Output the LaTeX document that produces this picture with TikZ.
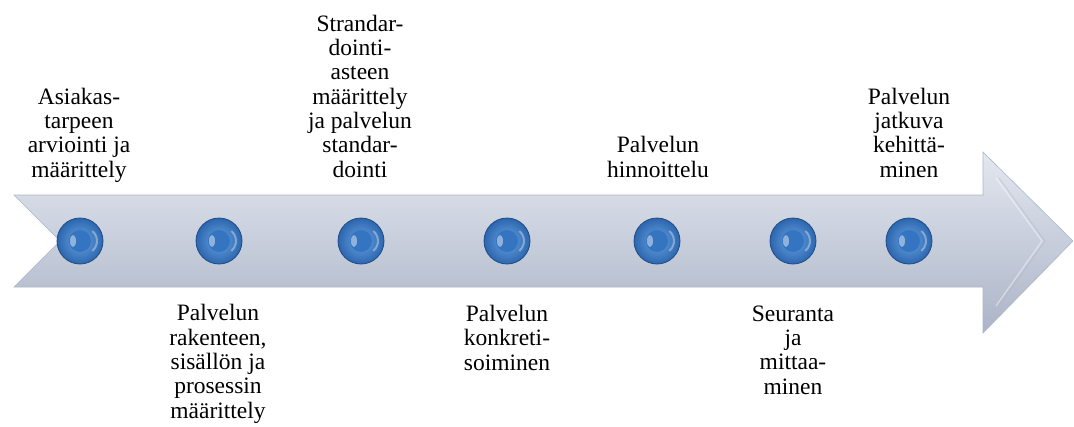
\documentclass[tikz,border=0pt]{standalone}
\usepackage{fontspec}
\setmainfont{Liberation Serif}
\definecolor{arrowtop}{HTML}{E3E7EF}
\definecolor{arrowmid}{HTML}{CBD2DF}
\definecolor{arrowbot}{HTML}{ABB4C7}
\definecolor{arrowedge}{HTML}{AEB7C8}
\definecolor{beadlight}{HTML}{6AA4E4}
\definecolor{beaddark}{HTML}{2C66AE}
\definecolor{beadrim}{HTML}{1F4C85}
\definecolor{beadcore}{HTML}{3474C0}
\begin{document}
\begin{tikzpicture}[x=1pt,y=-1pt,
  steplabel/.style={align=center, font=\fontsize{23.5}{24.3}\selectfont,
    inner sep=0pt, anchor=base},
  bead/.style={circle, minimum size=46pt, inner sep=0pt, draw=beadrim,
    line width=0.8pt, shading=radial, inner color=beadlight,
    outer color=beaddark,
    path picture={
      \fill[beadcore] (path picture bounding box.center) circle (11);
      \fill[white, opacity=0.45] ([xshift=-7pt]path picture bounding box.center)
        ellipse (3 and 6);
      \draw[white, opacity=0.35, line width=2pt]
        ([xshift=4pt]path picture bounding box.center) ++(-50:13) arc (-50:50:13);
    }}
]
\useasboundingbox (0,0) rectangle (1074,426);

% the timeline arrow
\shade[top color=arrowtop, middle color=arrowmid, bottom color=arrowbot,
  draw=arrowedge, line width=0.6pt]
  (14,195) -- (983,195) -- (983,152) -- (1073,241) -- (983,333)
  -- (983,287) -- (14,287) -- (60,241) -- cycle;
% bevel on the arrow head
\draw[white, opacity=0.45, line width=1.2pt]
  (996,178) -- (1042,241) -- (996,306);
\draw[arrowedge, opacity=0.5, line width=0.8pt]
  (999,178) -- (1045,241) -- (999,306);

% beads on the timeline
\node[bead] (b1) at (80,241) {};
\node[bead] (b2) at (219,241) {};
\node[bead] (b3) at (361,241) {};
\node[bead] (b4) at (507,241) {};
\node[bead] (b5) at (657,241) {};
\node[bead] (b6) at (793,241) {};
\node[bead] (b7) at (909,241) {};

% step labels above and below (anchored at the last baseline)
\node[steplabel] (t1) at (79,177) {Asiakas-\\tarpeen\\arviointi ja\\määrittely};
\node[steplabel] (t2) at (218,418) {Palvelun\\rakenteen,\\sisällön ja\\prosessin\\määrittely};
\node[steplabel] (t3) at (360,177) {Strandar-\\dointi-\\asteen\\määrittely\\ja palvelun\\standar-\\dointi};
\node[steplabel] (t4) at (507,370) {Palvelun\\konkreti-\\soiminen};
\node[steplabel] (t5) at (658,177) {Palvelun\\hinnoittelu};
\node[steplabel] (t6) at (793,394) {Seuranta\\ja\\mittaa-\\minen};
\node[steplabel] (t7) at (909,177) {Palvelun\\jatkuva\\kehittä-\\minen};
\end{tikzpicture}
\end{document}
